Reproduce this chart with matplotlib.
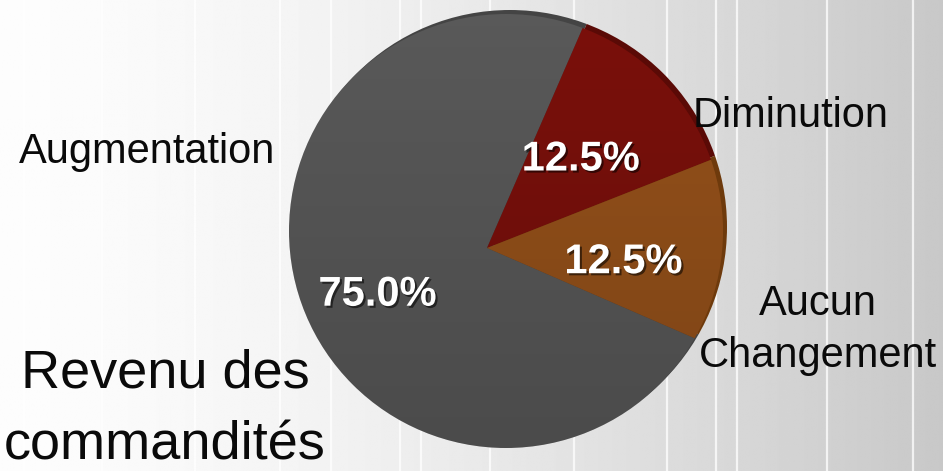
import numpy as np
import matplotlib
matplotlib.use("Agg")
import matplotlib.pyplot as plt
from matplotlib.patches import Circle
import matplotlib.patheffects as pe

# ---- data ----
categories = ["Augmentation", "Diminution", "Aucun\nChangement"]
shares = [75.0, 12.5, 12.5]
title_lines = ["Revenu des", "commandités"]

# ---- layout / style ----
W, H = 943, 471
FONT = "Liberation Sans"
face_colors = ["#595959", "#7a100b", "#95511a"]
rim_colors = ["#444444", "#5a0a06", "#6e3a0c"]

fig = plt.figure(figsize=(W / 100, H / 100), dpi=100)
ax = fig.add_axes([0, 0, 1, 1])

# background gradient with faint vertical stripes
xs = np.linspace(0, W, 600)
vals = np.interp(xs, [0, 100, 300, 500, 700, 943], [253, 251, 244, 232, 218, 200]) / 255
ax.imshow(np.tile(vals, (2, 1)), cmap="gray", vmin=0, vmax=1,
          extent=[0, W, 0, H], aspect="auto", zorder=0, interpolation="bilinear")
for x in [24, 102, 195, 280, 331, 400, 421, 490, 574, 667, 716, 737, 827, 913]:
    ax.axvline(x, color="white", lw=1.6, alpha=0.75, zorder=1)

apex = (487, 223)
clip_c = (506, 240)
clip_r = 217
start = 336.5

# rim (3D thickness) behind the face
rim_off = (4, 4)
rim_clip = Circle((clip_c[0] + rim_off[0], clip_c[1] + rim_off[1]), clip_r,
                  transform=ax.transData)
rim_wedges, _ = ax.pie(shares, center=(apex[0] + rim_off[0], apex[1] + rim_off[1]),
                       radius=260, startangle=start, counterclock=False,
                       colors=rim_colors, wedgeprops=dict(linewidth=0), frame=True)
for w in rim_wedges:
    w.set_clip_on(True)
    w.set_clip_path(rim_clip)
    w.set_zorder(2)

face_clip = Circle(clip_c, clip_r, transform=ax.transData)
face_wedges, _, autotexts = ax.pie(
    shares, center=apex, radius=260, startangle=start, counterclock=False,
    colors=face_colors, wedgeprops=dict(linewidth=0), frame=True,
    autopct="%1.1f%%", pctdistance=0.49,
    textprops=dict(color="white", fontsize=30, fontweight="bold", family=FONT))
for w in face_wedges:
    w.set_clip_on(True)
    w.set_clip_path(face_clip)
    w.set_zorder(3)

# subtle vertical shading over the face
shade = np.zeros((200, 2, 4))
shade[..., 3] = np.linspace(0.0, 0.16, 200)[:, None] * np.ones((1, 2))
shade_img = ax.imshow(shade, origin="upper",
                      extent=[clip_c[0] - clip_r, clip_c[0] + clip_r,
                              clip_c[1] - clip_r, clip_c[1] + clip_r],
                      aspect="auto", zorder=4, interpolation="bilinear")
shade_img.set_clip_path(Circle(clip_c, clip_r, transform=ax.transData))

pct_nudge = [(9, 0), (2, 0), (9, -12)]
for t, (dx, dy) in zip(autotexts, pct_nudge):
    x0, y0 = t.get_position()
    t.set_position((x0 + dx, y0 + dy))
    t.set_zorder(6)
    t.set_path_effects([pe.withSimplePatchShadow(offset=(1.5, -1.5), shadow_rgbFace="black",
                                                 alpha=0.55)])

# category labels
label_pos = [(147, 308), (791, 344), (818, 156)]
line_gap = 52
for lab, (x, y) in zip(categories, label_pos):
    for i, line in enumerate(lab.split("\n")):
        ax.text(x, y - i * line_gap, line, ha="center", va="baseline",
                fontsize=30, family=FONT, color="#0a0a0a", zorder=7)

# title (bottom-left)
for i, line in enumerate(title_lines):
    ax.text(165, 83 - i * 71, line, ha="center", va="baseline",
            fontsize=39, family=FONT, color="#0a0a0a", zorder=7)

ax.set_xlim(0, W)
ax.set_ylim(0, H)
ax.set_aspect("auto")
ax.axis("off")
fig.savefig("out.png", dpi=100)
